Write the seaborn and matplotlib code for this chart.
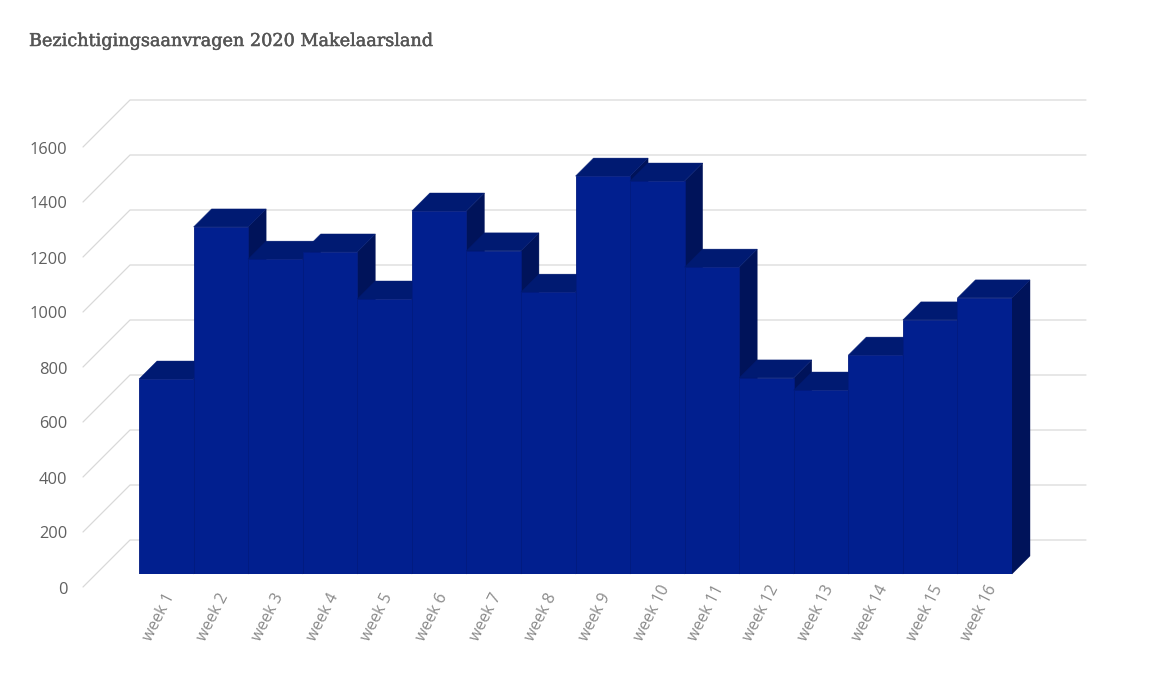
import matplotlib
matplotlib.use("Agg")
import matplotlib.pyplot as plt
import matplotlib.patheffects as pe
from matplotlib.patches import Polygon
from matplotlib.transforms import ScaledTranslation
import pandas as pd
import seaborn as sns

weeks = ["week 1", "week 2", "week 3", "week 4", "week 5", "week 6", "week 7", "week 8",
         "week 9", "week 10", "week 11", "week 12", "week 13", "week 14", "week 15", "week 16"]
requests = [709, 1262, 1145, 1171, 1000, 1320, 1175, 1025,
            1447, 1429, 1116, 713, 669, 796, 924, 1004]
y_ticks = [0, 200, 400, 600, 800, 1000, 1200, 1400, 1600]
title = "Bezichtigingsaanvragen 2020 Makelaarsland"

FRONT, TOP, SIDE = "#011f8f", "#001a72", "#00135a"
W, H = 1150, 688
L_PX, R_PX, BASE_PX, TOP_PX = 139, 1012, 574, 100
UNIT_X = (R_PX - L_PX) / len(weeks)
UNIT_Y = 0.275
DX, DY = 18 / UNIT_X, 18 / UNIT_Y

sns.set_style("white")
plt.rcParams["font.family"] = ["Open Sans", "DejaVu Sans"]

fig = plt.figure(figsize=(W / 100, H / 100), dpi=100)
ax = fig.add_axes([L_PX / W, 1 - BASE_PX / H, (R_PX - L_PX) / W, (BASE_PX - TOP_PX) / H])

df = pd.DataFrame({"week": weeks, "requests": requests})
sns.barplot(data=df, x="week", y="requests", color=FRONT, saturation=1, width=1,
            edgecolor="#021b80", linewidth=0.6, ax=ax)
ax.set_xlim(-0.5, len(weeks) - 0.5)
ax.set_ylim(0, (BASE_PX - TOP_PX) / UNIT_Y)
ax.set_xlabel("")
ax.set_ylabel("")
for s in ax.spines.values():
    s.set_visible(False)

# 3D faces, layered left to right
for i, (bar, v) in enumerate(zip(ax.patches, requests)):
    bar.set_zorder(5 + i * 3 + 2)
    x0, x1 = i - 0.5, i + 0.5
    ax.add_patch(Polygon([(x1, 0), (x1, v), (x1 + DX, v + DY), (x1 + DX, DY)],
                         closed=True, fc=SIDE, ec=SIDE, lw=0.3, zorder=5 + i * 3, clip_on=False))
    ax.add_patch(Polygon([(x0, v), (x1, v), (x1 + DX, v + DY), (x0 + DX, v + DY)],
                         closed=True, fc=TOP, ec=TOP, lw=0.3, zorder=5 + i * 3 + 1, clip_on=False))

# back wall and floor-side grid
back_left = (130 - L_PX) / UNIT_X - 0.5
back_right = (1086 - L_PX) / UNIT_X - 0.5
front_left = (83 - L_PX) / UNIT_X - 0.5
back_dy = (BASE_PX - 540) / UNIT_Y
front_dy = (BASE_PX - 587) / UNIT_Y
for t in y_ticks:
    ax.plot([front_left, back_left, back_right], [t + front_dy, t + back_dy, t + back_dy],
            color="#d9d9d9", lw=0.9, zorder=1, clip_on=False)

ax.set_yticks(y_ticks)
ax.set_yticklabels([str(t) for t in y_ticks], fontsize=11.8, color="#606060")
ax.tick_params(axis="y", length=0, pad=(L_PX - 67.5) * 0.72)
shift = ScaledTranslation(0, -13.5 / 100, fig.dpi_scale_trans)
for lab in ax.get_yticklabels():
    lab.set_transform(lab.get_transform() + shift)

ax.set_xticks(range(len(weeks)))
ax.set_xticklabels(weeks, fontsize=11.4, color="#8a8a8a", rotation=63, ha="left",
                   rotation_mode="anchor", va="center")
ax.tick_params(axis="x", length=0, pad=66 * 0.72)
xshift = ScaledTranslation(-19 / 100, 0, fig.dpi_scale_trans)
for lab in ax.get_xticklabels():
    lab.set_transform(lab.get_transform() + xshift)

fig.text(29 / W, 1 - 41 / H, title, family="DejaVu Serif", fontsize=12.7, color="#555555",
         va="center", ha="left",
         path_effects=[pe.withStroke(linewidth=0.35, foreground="#555555")])
fig.savefig("out.png", dpi=100, facecolor="white")
